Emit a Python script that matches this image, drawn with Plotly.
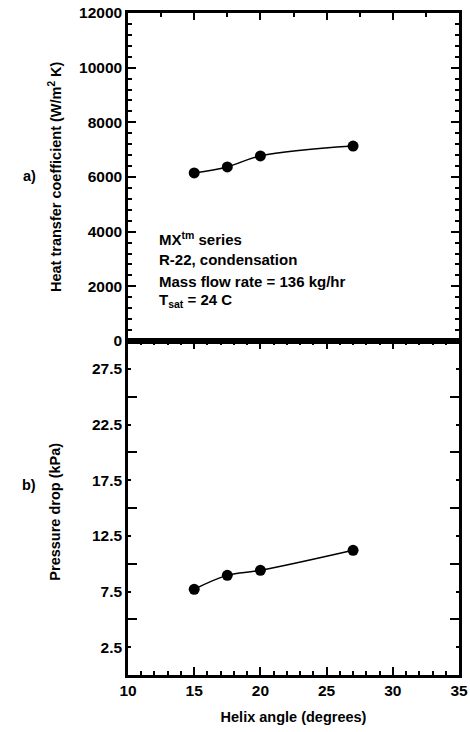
import plotly.graph_objects as go
from plotly.subplots import make_subplots

# ---- data ----
helix_angle = [15, 17.5, 20, 27]
heat_transfer = [6150, 6370, 6770, 7130]
pressure_drop = [7.7, 8.95, 9.4, 11.2]

x_ticks = [10, 15, 20, 25, 30, 35]
htc_ticks = [0, 2000, 4000, 6000, 8000, 10000, 12000]
dp_ticks = [2.5, 7.5, 12.5, 17.5, 22.5, 27.5]
dp_major = [5, 10, 15, 20, 25]

notes = ["MX<sup>tm</sup> series", "R-22, condensation",
         "Mass flow rate = 136 kg/hr", "T<sub>sat</sub> = 24 C"]

FONT = "Arial, Liberation Sans, Helvetica, sans-serif"

fig = make_subplots(rows=2, cols=1, shared_xaxes=False, vertical_spacing=0,
                    row_heights=[0.4955, 0.5045])

fig.add_trace(go.Scatter(x=helix_angle, y=heat_transfer, mode="lines+markers",
                         line=dict(color="black", width=1.5, shape="spline", smoothing=1.1),
                         marker=dict(color="black", size=11)), row=1, col=1)
fig.add_trace(go.Scatter(x=helix_angle, y=pressure_drop, mode="lines+markers",
                         line=dict(color="black", width=1.5, shape="spline", smoothing=1.1),
                         marker=dict(color="black", size=11)), row=2, col=1)

tickfont = dict(family=FONT, size=15.5, color="black", weight="bold")
axis_common = dict(showline=True, linecolor="black", linewidth=2.5,
                   showgrid=False, zeroline=False, ticks="inside",
                   tickcolor="black", tickwidth=1.5, automargin=False,
                   tickfont=tickfont)

# top panel x axis: ticks only along top edge
fig.update_xaxes(range=[10, 35], side="top", tickvals=x_ticks, ticklen=7,
                 showticklabels=False, mirror=True,
                 minor=dict(dtick=2.5, tick0=10, ticks="inside", ticklen=4,
                            tickcolor="black", tickwidth=1.5),
                 row=1, col=1, **axis_common)
# bottom panel x axis
fig.update_xaxes(range=[10, 35], tickvals=x_ticks, ticktext=[str(v) for v in x_ticks],
                 ticklen=8, mirror="ticks",
                 minor=dict(dtick=1, tick0=10, ticks="inside", ticklen=4,
                            tickcolor="black", tickwidth=1.5),
                 title=dict(text="Helix angle (degrees)", standoff=14,
                            font=dict(family=FONT, size=14.5, color="black", weight="bold")),
                 row=2, col=1, **axis_common)

fig.update_yaxes(range=[0, 12000], tickvals=htc_ticks,
                 ticktext=[str(v) for v in htc_ticks], ticklen=8, mirror="ticks",
                 minor=dict(dtick=400, tick0=0, ticks="inside", ticklen=4,
                            tickcolor="black", tickwidth=1.5),
                 row=1, col=1, **axis_common)
fig.update_yaxes(range=[0, 30], tickvals=dp_ticks,
                 ticktext=[f"{v:.1f}" for v in dp_ticks], ticklen=3, mirror="ticks",
                 minor=dict(tickvals=dp_major, ticks="inside", ticklen=9,
                            tickcolor="black", tickwidth=1.5),
                 row=2, col=1, **axis_common)

bold = dict(family=FONT, size=14.5, color="black", weight="bold")
annotations = []
# y-axis titles
annotations.append(dict(text="Heat transfer coefficient (W/m<sup>2</sup> K)",
                        xref="paper", yref="paper", x=-0.22, y=0.7525,
                        textangle=-90, showarrow=False, xanchor="center", yanchor="middle",
                        font=bold))
annotations.append(dict(text="Pressure drop (kPa)",
                        xref="paper", yref="paper", x=-0.22, y=0.247,
                        textangle=-90, showarrow=False, xanchor="center", yanchor="middle",
                        font=bold))
# panel labels
annotations.append(dict(text="a)", xref="paper", yref="paper", x=-0.298, y=0.754,
                        showarrow=False, xanchor="center", yanchor="middle", font=bold))
annotations.append(dict(text="b)", xref="paper", yref="paper", x=-0.298, y=0.287,
                        showarrow=False, xanchor="center", yanchor="middle", font=bold))
# note block
note_y = [0.659, 0.627, 0.595, 0.565]
for txt, yy in zip(notes, note_y):
    annotations.append(dict(text=txt, xref="paper", yref="paper", x=0.0876, y=yy,
                            showarrow=False, xanchor="left", yanchor="middle",
                            font=dict(family=FONT, size=15, color="black", weight="bold")))

fig.update_layout(width=470, height=732, showlegend=False,
                  margin=dict(l=128, r=11, t=13, b=57, autoexpand=False),
                  plot_bgcolor="white", paper_bgcolor="white",
                  font=dict(family=FONT, color="black"),
                  annotations=annotations)

fig.write_html("out.html", config={"displayModeBar": False},
               post_script="document.body.style.margin='0';document.body.style.overflow='hidden';")
